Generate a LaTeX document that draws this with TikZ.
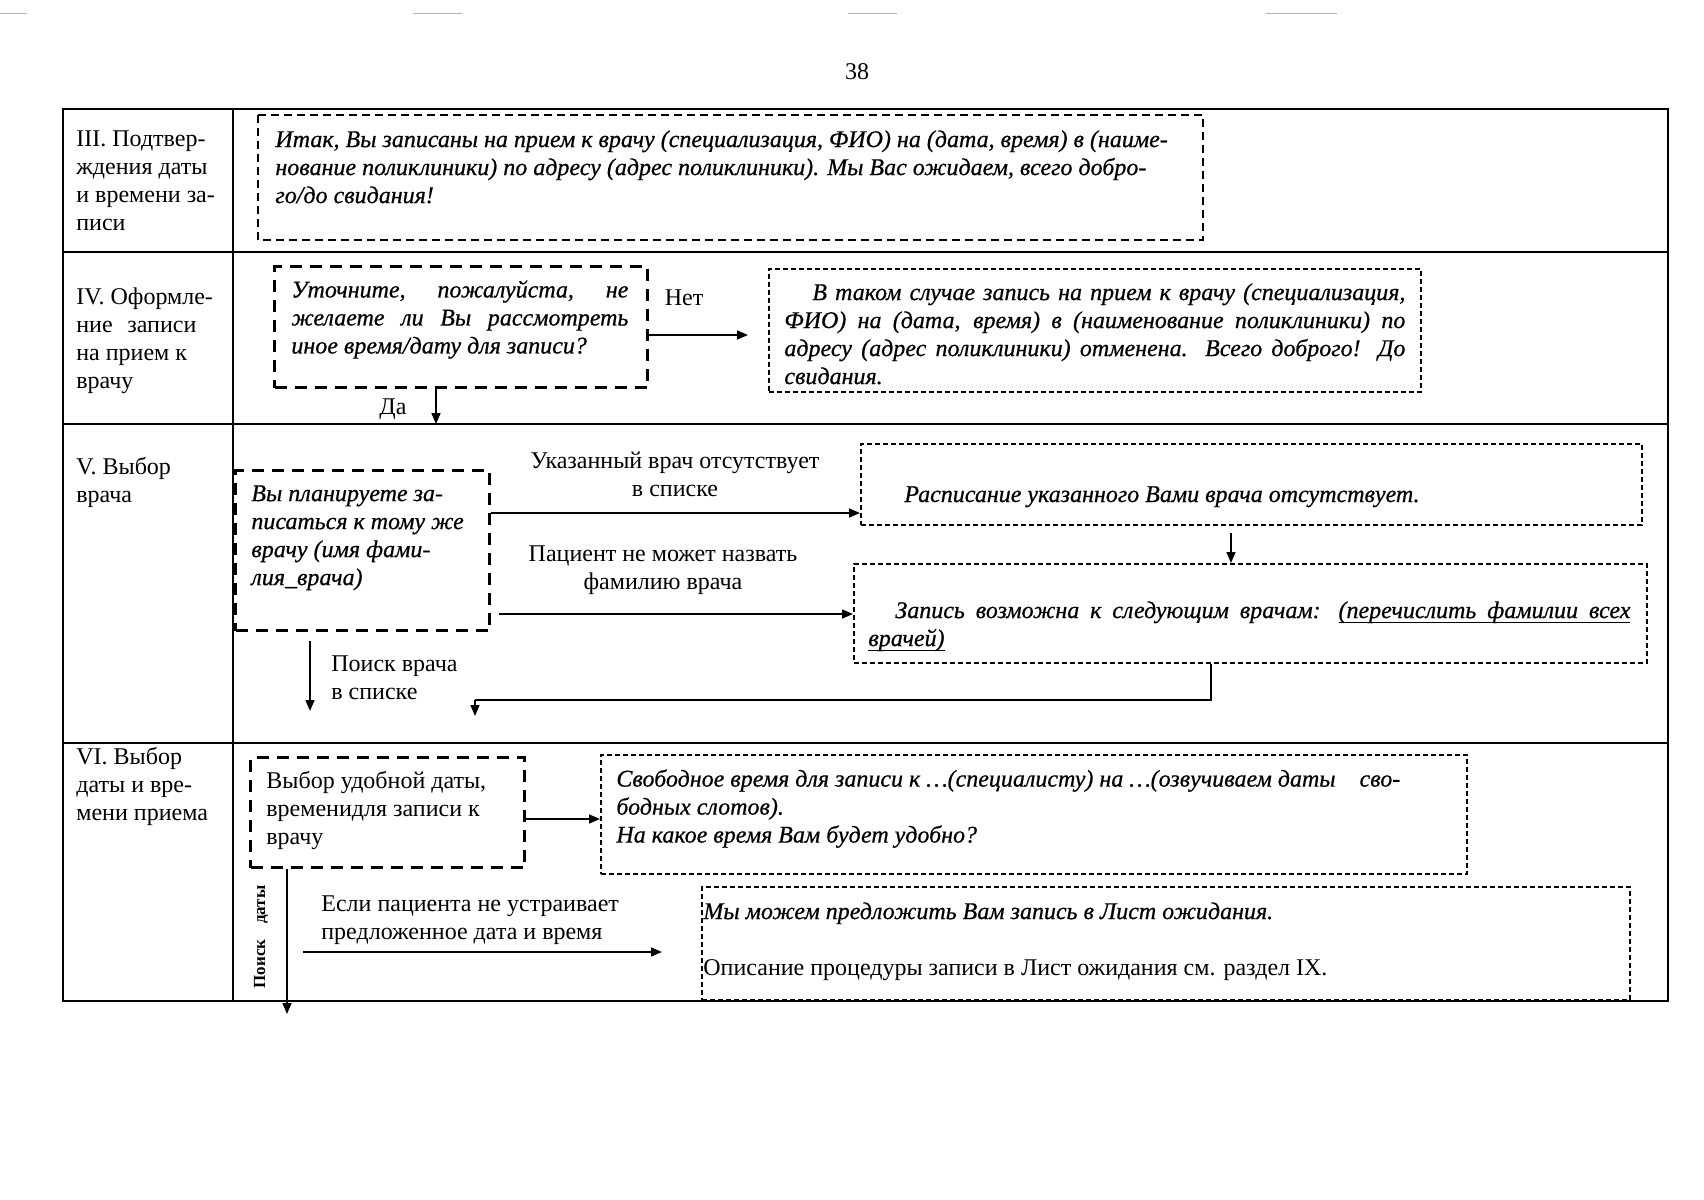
\documentclass[tikz,border=0pt]{standalone}
\usepackage{fontspec}
\setmainfont{Liberation Serif}
\newfontfamily\itfont{Liberation Serif}[FakeBold=0.6]
\usetikzlibrary{arrows.meta}
\newcommand\jline[2]{\makebox[#1][s]{#2}}
\newcommand\uw[1]{\setbox0\hbox{#1}\rlap{\rule[-2.6pt]{\wd0}{0.5pt}}\box0}
\newcommand\usp{\leaders\hrule height -2.1pt depth 2.6pt\hskip\fontdimen2\font plus\fontdimen3\font minus\fontdimen4\font\relax}
\begin{document}
\begin{tikzpicture}[x=0.5pt,y=-0.5pt,
  txt/.style={font=\fontsize{12}{14}\selectfont, inner sep=0pt, anchor=north west, align=left, execute at begin node=\strut},
  itx/.style={txt, font=\fontsize{12}{14}\itfont\itshape},
  ctx/.style={font=\fontsize{12}{14}\selectfont, inner sep=0pt, align=center},
  tline/.style={line width=1pt},
  thickbox/.style={draw, line width=1.5pt, dash pattern=on 6pt off 4pt},
  midbox/.style={draw, line width=1.4pt, dash pattern=on 4pt off 2.5pt},
  thinbox/.style={draw, line width=0.75pt, dash pattern=on 2.5pt off 1.5pt},
  arr/.style={line width=0.8pt, -{Triangle[length=5.5pt,width=4.5pt]}},
  plain/.style={line width=0.8pt}]
\useasboundingbox (0,0) rectangle (1704,1200);
\fill[white] (0,0) rectangle (1704,1200);
% scan artifacts
\draw[gray!60, line width=0.5pt] (0,13) -- (27,13) (413,13) -- (462,13) (848,13) -- (897,13) (1266,13) -- (1337,13);
% page number
\node[ctx] (pg) at (857,72) {38};
% table
\draw[tline] (63,109) rectangle (1668,1001);
\draw[tline] (233,109) -- (233,1001);
\draw[tline] (63,252) -- (1668,252);
\draw[tline] (63,424) -- (1668,424);
\draw[tline] (63,743) -- (1668,743);
% row labels
\node[txt] (l3) at (76,130) {III. Подтвер-\\ждения даты\\и времени за-\\писи};
\node[txt] (l4) at (76,287) {IV. Оформле-\\\jline{60pt}{ние записи}\\на прием к\\врачу};
\node[txt] (l5) at (76,457) {V. Выбор\\врача};
\node[txt] (l6) at (76,747) {VI. Выбор\\даты и вре-\\мени приема};
% Row III
\path[midbox] (258,115) rectangle (1203,240);
\node[itx] (t3) at (275,130) {Итак, Вы записаны на прием к врачу (специализация, ФИО) на (дата, время) в (наиме-\\нование поликлиники) по адресу (адрес поликлиники). Мы Вас ожидаем, всего добро-\\го/до свидания!};
% Row IV
\node[thickbox, minimum width=186.5pt, minimum height=60.5pt, anchor=north west] (b4a) at (273,265) {};
\node[itx] (t4a) at (291,280) {\jline{168.5pt}{Уточните, пожалуйста, не}\\\jline{168.5pt}{желаете ли Вы рассмотреть}\\иное время/дату для записи?};
\node[ctx] (net) at (684,298) {Нет};
\coordinate (e4) at (748,335);
\draw[arr] (b4a.east |- e4) -- (e4);
\node[thinbox, minimum width=326pt, minimum height=61.5pt, anchor=north west] (b4b) at (768,268) {};
\node[itx] (t4b) at (784,283) {\jline{310.5pt}{\hspace{14pt}В таком случае запись на прием к врачу (специализация,}\\\jline{310.5pt}{ФИО) на (дата, время) в (наименование поликлиники) по}\\\jline{310.5pt}{адресу (адрес поликлиники) отменена. Всего доброго! До}\\свидания.};
\node[ctx] (da) at (393,409) {Да};
\coordinate (e4d) at (436,424);
\draw[arr] (b4a.south -| e4d) -- (e4d);
% Row V
\node[thickbox, minimum width=127pt, minimum height=80pt, anchor=north west] (b5) at (234,469) {};
\node[itx] (t5) at (251,485) {Вы планируете за-\\писаться к тому же\\врачу (имя фами-\\лия\_врача)};
\node[ctx] (lab5a) at (675,474) {Указанный врач отсутствует\\в списке};
\node[thinbox, minimum width=390.5pt, minimum height=40.5pt, anchor=north west] (b5r1) at (860,443) {};
\node[itx] (t5r1) at (904,482) {Расписание указанного Вами врача отсутствует.};
\coordinate (e5a) at (860,513);
\draw[arr] (b5.east |- e5a) -- (e5a);
\node[thinbox, minimum width=396.5pt, minimum height=49.5pt, anchor=north west] (b5r2) at (853,563) {};
\node[itx] (t5r2) at (868,601) {\jline{381pt}{\hspace{13.5pt}Запись возможна к следующим врачам: \uw{(перечислить}\usp\uw{фамилии}\usp\uw{всех}}\\\uw{врачей)}};
\coordinate (s5b) at (1231,533);
\draw[arr] (s5b) -- (s5b |- b5r2.north);
\node[ctx] (lab5b) at (663,570) {Пациент не может назвать\\фамилию врача};
\coordinate (s5c) at (499,614);
\draw[arr] (s5c) -- (s5c -| b5r2.west);
\coordinate (k1) at (1211,700);
\coordinate (e5d) at (475,716);
\draw[plain] (b5r2.south -| k1) -- (k1) -- (k1 -| e5d);
\draw[arr] (e5d |- k1) -- (e5d);
\coordinate (s5e) at (310,641);
\coordinate (e5e) at (310,711);
\draw[arr] (s5e) -- (e5e);
\node[txt] (lab5e) at (331,655) {Поиск врача\\в списке};
% Row VI
\node[thickbox, minimum width=137pt, minimum height=55pt, anchor=north west] (b6) at (249,756) {};
\node[txt] (t6) at (266,771) {Выбор удобной даты,\\временидля записи к\\врачу};
\node[thinbox, minimum width=433pt, minimum height=59.5pt, anchor=north west] (b6r1) at (600,754) {};
\node[itx] (t6r1) at (616,769) {Свободное время для записи к …(специалисту) на …(озвучиваем даты\quad сво-\\бодных слотов).\\На какое время Вам будет удобно?};
\coordinate (e6a) at (600,819);
\draw[arr] (b6.east |- e6a) -- (e6a);
\coordinate (e6b) at (287,1014);
\draw[arr] (b6.south -| e6b) -- (e6b);
\node[inner sep=0pt, rotate=90, font=\fontsize{8.5}{10}\selectfont\bfseries] (poisk) at (261,937) {\makebox[51.5pt]{Поиск\hfill даты}};
\node[txt] (lab6) at (321,895) {Если пациента не устраивает\\предложенное дата и время};
\coordinate (s6c) at (303,952);
\coordinate (e6c) at (662,952);
\draw[arr] (s6c) -- (e6c);
\node[thinbox, minimum width=464pt, minimum height=56.5pt, anchor=north west] (b6r2) at (701,886) {};
\node[txt] (t6r2) at (703,902) {{\itfont\itshape Мы можем предложить Вам запись в Лист ожидания.}\\[14pt]Описание процедуры записи в Лист ожидания см. раздел IX.};
\end{tikzpicture}
\end{document}
